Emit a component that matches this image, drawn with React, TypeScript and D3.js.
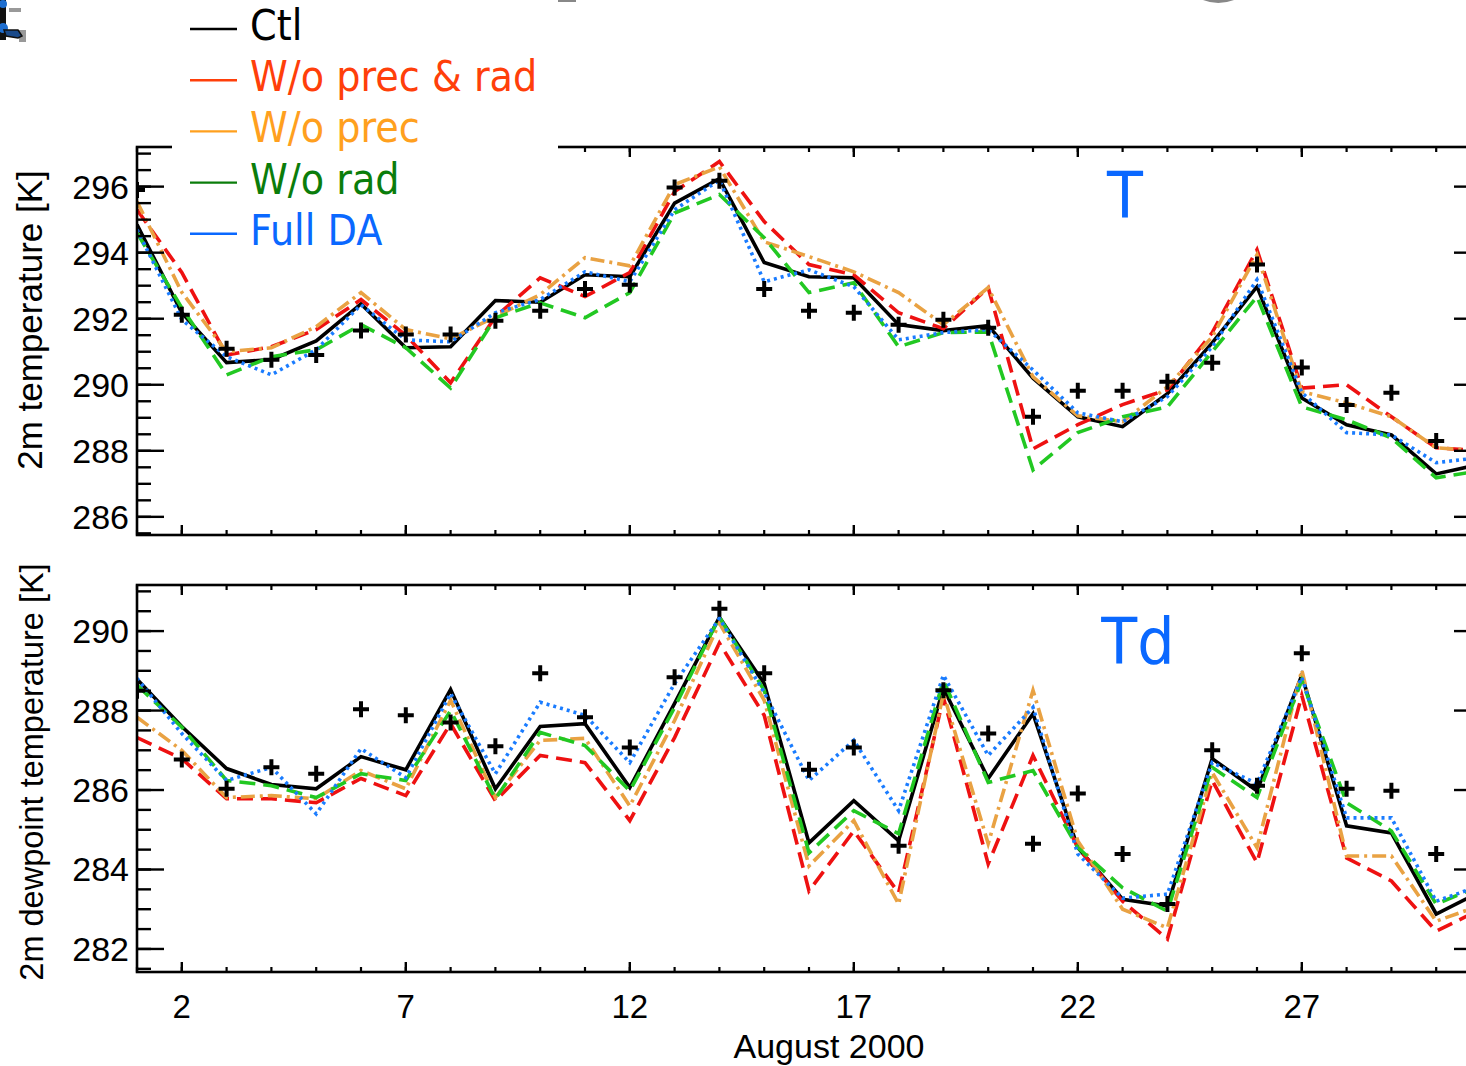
import React from "react";
import * as d3 from "d3";

// ---------- data ----------
const days = [1, 2, 3, 4, 5, 6, 7, 8, 9, 10, 11, 12, 13, 14, 15, 16, 17, 18, 19, 20, 21, 22, 23, 24, 25, 26, 27, 28, 29, 30, 31];
const xMajorTicks = [2, 7, 12, 17, 22, 27];
const xLabel = "August 2000";

const tYTicks = [286, 288, 290, 292, 294, 296];
const tdYTicks = [282, 284, 286, 288, 290];

const legendNames = ["Ctl", "W/o prec & rad", "W/o prec", "W/o rad", "Full DA"];

// 2m temperature [K]
const tCtl = [294.85, 292.18, 290.67, 290.76, 291.33, 292.45, 291.12, 291.15, 292.55, 292.5, 293.33, 293.27, 295.5, 296.24, 293.7, 293.27, 293.24, 291.82, 291.64, 291.79, 290.2, 289.03, 288.73, 289.73, 291.27, 292.97, 289.6, 288.79, 288.48, 287.3, 287.6];
const tNoPrecRad = [295.3, 293.4, 290.9, 291.15, 291.67, 292.58, 291.5, 290.06, 292.06, 293.24, 292.67, 293.4, 295.85, 296.76, 294.94, 293.64, 293.33, 292.18, 291.7, 292.94, 288.06, 288.79, 289.4, 289.85, 291.58, 294.09, 289.9, 290.0, 289.03, 288.09, 288.0];
const tNoPrec = [295.55, 292.8, 291.0, 291.12, 291.76, 292.79, 291.67, 291.39, 292.06, 292.73, 293.85, 293.6, 296.06, 296.6, 294.33, 293.88, 293.42, 292.79, 291.82, 292.94, 290.24, 289.06, 288.88, 289.94, 291.45, 293.94, 289.79, 289.45, 289.03, 288.09, 288.0];
const tNoRad = [294.6, 292.33, 290.3, 290.85, 291.06, 291.82, 291.12, 289.9, 292.03, 292.48, 292.03, 292.79, 295.2, 295.76, 294.45, 292.79, 293.09, 291.15, 291.58, 291.6, 287.42, 288.55, 289.03, 289.33, 291.0, 292.67, 289.33, 288.94, 288.39, 287.18, 287.4];
const tFull = [294.7, 291.97, 290.85, 290.3, 291.06, 292.42, 291.36, 291.3, 292.18, 292.58, 293.42, 293.12, 295.3, 296.2, 293.12, 293.48, 292.97, 291.36, 291.58, 291.67, 290.45, 289.15, 288.88, 289.64, 291.15, 293.18, 289.76, 288.55, 288.48, 287.64, 287.8];
const tObs = [295.9, 292.12, 291.09, 290.76, 290.9, 291.64, 291.52, 291.52, 291.94, 292.24, 292.9, 293.03, 295.97, 296.18, 292.9, 292.24, 292.18, 291.82, 291.97, 291.73, 289.03, 289.82, 289.82, 290.09, 290.67, 293.64, 290.52, 289.39, 289.76, 288.3];

// 2m dewpoint temperature [K]
const tdCtl = [288.79, 287.6, 286.54, 286.14, 286.03, 286.84, 286.51, 288.53, 286.03, 287.6, 287.67, 286.06, 288.18, 290.35, 288.68, 284.67, 285.73, 284.72, 288.56, 286.29, 287.92, 284.55, 283.25, 283.08, 286.79, 285.98, 288.89, 285.1, 284.92, 282.88, 283.45];
const tdNoPrecRad = [287.32, 286.79, 285.78, 285.78, 285.68, 286.29, 285.86, 287.67, 285.73, 286.87, 286.69, 285.23, 287.32, 289.7, 287.88, 283.46, 284.97, 283.41, 288.33, 284.14, 286.87, 284.55, 283.2, 282.25, 286.24, 284.17, 288.38, 284.29, 283.71, 282.45, 283.0];
const tdNoPrec = [287.83, 287.0, 285.81, 285.86, 285.78, 286.49, 286.03, 288.26, 285.81, 287.25, 287.3, 285.6, 287.75, 290.2, 288.26, 284.09, 285.23, 283.13, 288.43, 284.65, 288.51, 284.72, 283.0, 282.53, 286.44, 284.55, 289.02, 284.34, 284.34, 282.7, 283.1];
const tdNoRad = [288.64, 287.58, 286.24, 286.11, 285.81, 286.41, 286.24, 288.0, 285.78, 287.45, 287.12, 285.98, 288.08, 290.35, 288.51, 284.42, 285.48, 284.9, 288.76, 286.19, 286.49, 284.55, 283.54, 282.95, 286.57, 285.81, 288.76, 285.68, 284.97, 283.13, 283.6];
const tdFull = [288.81, 287.42, 286.24, 286.57, 285.4, 287.04, 286.31, 288.43, 286.41, 288.21, 287.88, 286.69, 288.68, 290.32, 288.46, 286.24, 287.25, 285.48, 288.89, 286.87, 288.08, 284.39, 283.28, 283.38, 286.69, 286.16, 288.84, 285.3, 285.3, 283.2, 283.6];
const tdObs = [288.5, 286.77, 286.03, 286.57, 286.41, 288.03, 287.88, 287.7, 287.1, 288.94, 287.83, 287.07, 288.84, 290.56, 288.94, 286.51, 287.07, 284.6, 288.51, 287.42, 284.65, 285.91, 284.39, 283.13, 287.0, 286.11, 289.44, 286.03, 285.98, 284.39];

// ---------- styles ----------
const lineStyles = [
  { color: "#000000", dash: "none" },
  { color: "#ee1111", dash: "16,8" },
  { color: "#e9a243", dash: "14,5,3,5" },
  { color: "#22c822", dash: "16,8" },
  { color: "#1a7cff", dash: "3,4" },
];
const legendTextColors = ["#000000", "#ff3f0a", "#ffa01e", "#0b7d0b", "#0a68ff"];

const W = 1466;
const H = 1066;
const PL = 137;
const PR = 1481;
const HELV = "'Liberation Sans', Arial, sans-serif";
const TAH = "'DejaVu Sans', Verdana, sans-serif";

const x = d3.scaleLinear().domain([1, 31]).range([PL, PR]);

type PanelProps = {
  id: string;
  top: number;
  bottom: number;
  domain: [number, number];
  yTicks: number[];
  series: number[][];
  obs: number[];
  label: string;
  labelX: number;
  labelY: number;
  title: string;
  titleY: number;
  titleX: number;
  titleSize: number;
  showXLabels: boolean;
};

function Panel(p: PanelProps) {
  const y = d3.scaleLinear().domain(p.domain).range([p.bottom, p.top]);
  const line = d3
    .line<number>()
    .x((_, i) => x(days[i]))
    .y((d) => y(d));
  const minorY = d3.range(Math.ceil(p.domain[0] * 2) / 2, p.domain[1], 0.5);
  const minorX = days;
  return (
    <g>
      <defs>
        <clipPath id={`clip-${p.id}`}>
          <rect x={PL} y={p.top} width={PR - PL} height={p.bottom - p.top} />
        </clipPath>
      </defs>
      <g clipPath={`url(#clip-${p.id})`}>
        {p.series.map((s, i) => (
          <path
            key={i}
            d={line(s) || ""}
            fill="none"
            stroke={lineStyles[i].color}
            strokeWidth={3.6}
            strokeDasharray={lineStyles[i].dash}
            strokeLinejoin="miter"
          />
        ))}
        {p.obs.map((v, i) => {
          const cx = x(days[i]);
          const cy = y(v);
          return (
            <path
              key={i}
              d={`M${cx - 8},${cy}H${cx + 8}M${cx},${cy - 8}V${cy + 8}`}
              stroke="#000"
              strokeWidth={4}
            />
          );
        })}
      </g>
      {/* frame */}
      <rect
        x={PL}
        y={p.top}
        width={PR - PL}
        height={p.bottom - p.top}
        fill="none"
        stroke="#000"
        strokeWidth={2.6}
      />
      {/* y ticks */}
      {minorY.map((v, i) => (
        <g key={`ym${i}`}>
          <line x1={PL} x2={PL + 14} y1={y(v)} y2={y(v)} stroke="#000" strokeWidth={2.4} />
          <line x1={PR} x2={PR - 14} y1={y(v)} y2={y(v)} stroke="#000" strokeWidth={2.4} />
        </g>
      ))}
      {p.yTicks.map((v) => (
        <g key={`y${v}`}>
          <line x1={PL} x2={PL + 27} y1={y(v)} y2={y(v)} stroke="#000" strokeWidth={2.4} />
          <line x1={PR} x2={PR - 27} y1={y(v)} y2={y(v)} stroke="#000" strokeWidth={2.4} />
          <text
            x={PL - 8}
            y={y(v) + 12}
            textAnchor="end"
            fontFamily={HELV}
            fontSize={34}
            fill="#000"
          >
            {v}
          </text>
        </g>
      ))}
      {/* x ticks */}
      {minorX.map((d) => (
        <g key={`xm${d}`}>
          <line x1={x(d)} x2={x(d)} y1={p.bottom} y2={p.bottom - 5} stroke="#000" strokeWidth={2.2} />
          <line x1={x(d)} x2={x(d)} y1={p.top} y2={p.top + 5} stroke="#000" strokeWidth={2.2} />
        </g>
      ))}
      {xMajorTicks.map((d) => (
        <g key={`x${d}`}>
          <line x1={x(d)} x2={x(d)} y1={p.bottom} y2={p.bottom - 10} stroke="#000" strokeWidth={2.4} />
          <line x1={x(d)} x2={x(d)} y1={p.top} y2={p.top + 10} stroke="#000" strokeWidth={2.4} />
          {p.showXLabels && (
            <text x={x(d)} y={p.bottom + 46} textAnchor="middle" fontFamily={HELV} fontSize={33} fill="#000">
              {d}
            </text>
          )}
        </g>
      ))}
      {/* panel label */}
      <text
        transform={`translate(${p.labelX},${p.labelY}) scale(0.92,1)`}
        textAnchor="middle"
        fontFamily={TAH}
        fontSize={64}
        fill="#0a68ff"
      >
        {p.label}
      </text>
      {/* y title */}
      <text
        transform={`translate(${p.titleX},${p.titleY}) rotate(-90)`}
        textAnchor="middle"
        fontFamily={HELV}
        fontSize={p.titleSize}
        fill="#000"
      >
        {p.title}
      </text>
    </g>
  );
}

export default function App() {
  return (
    <div style={{ position: "absolute", left: 0, top: 0, width: W, height: H, background: "#fff" }}>
      <svg width={W} height={H} viewBox={`0 0 ${W} ${H}`} style={{ display: "block" }}>
        <rect x={0} y={0} width={W} height={H} fill="#fff" />
        <Panel
          id="t"
          top={147}
          bottom={535}
          domain={[285.45, 297.2]}
          yTicks={tYTicks}
          series={[tCtl, tNoPrecRad, tNoPrec, tNoRad, tFull]}
          obs={tObs}
          label="T"
          labelX={1125}
          labelY={218}
          title="2m temperature [K]"
          titleX={42}
          titleY={320}
          titleSize={35}
          showXLabels={false}
        />
        <Panel
          id="td"
          top={585}
          bottom={972}
          domain={[281.42, 291.16]}
          yTicks={tdYTicks}
          series={[tdCtl, tdNoPrecRad, tdNoPrec, tdNoRad, tdFull]}
          obs={tdObs}
          label="Td"
          labelX={1138}
          labelY={664}
          title="2m dewpoint temperature [K]"
          titleX={43}
          titleY={772}
          titleSize={32.5}
          showXLabels={true}
        />
        <text x={829} y={1058} textAnchor="middle" fontFamily={HELV} fontSize={34} fill="#000">
          {xLabel}
        </text>
        {/* legend */}
        <rect x={172} y={0} width={386} height={250} fill="#fff" />
        {legendNames.map((name, i) => {
          const ly = 29 + i * 51.2;
          return (
            <g key={name}>
              <line x1={190} x2={237} y1={ly} y2={ly} stroke={legendTextColors[i]} strokeWidth={2.4} />
              <text
                transform={`translate(250,${ly + 11}) scale(0.91,1)`}
                fontFamily={TAH}
                fontSize={42}
                fill={legendTextColors[i]}
              >
                {name}
              </text>
            </g>
          );
        })}
        {/* small cropped artifacts at the top edge */}
        <g>
          <rect x={9} y={8} width={12} height={4} fill="#999" />
          <rect x={19} y={30} width={7} height={12} fill="#999" />
          <rect x={0} y={0} width={6} height={40} fill="#111" />
          <circle cx={3} cy={4} r={4} fill="#1f6fd0" />
          <circle cx={3} cy={28} r={5} fill="#1f6fd0" />
          <path d="M4,30 L18,30 L22,36 L18,38 L6,36 Z" fill="#1a4a8a" stroke="#111" strokeWidth={1.5} />
          <rect x={558} y={0} width={18} height={2} fill="#888" />
          <path d="M1203,0 Q1218,6 1234,0 Z" fill="#888" />
        </g>
      </svg>
    </div>
  );
}
